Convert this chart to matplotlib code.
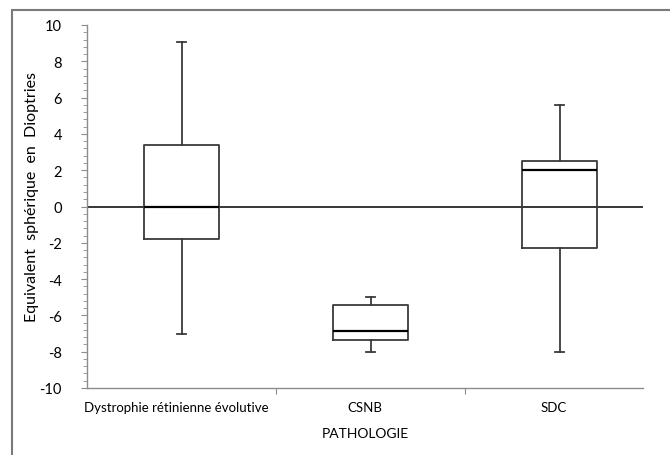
import matplotlib
matplotlib.use('Agg')
import matplotlib.pyplot as plt
from matplotlib.patches import Rectangle
from matplotlib.ticker import MultipleLocator

# valeurs (equivalent spherique, dioptries)
categories = ['Dystrophie rétinienne évolutive', 'CSNB', 'SDC']
whislo = [-7.0, -8.0, -8.0]
q1 = [-1.8, -7.38, -2.28]
med = [0.0, -6.88, 2.03]
q3 = [3.38, -5.43, 2.52]
whishi = [9.05, -5.0, 5.6]

plt.rcParams['font.family'] = ['Lato', 'DejaVu Sans']
plt.rcParams['axes.unicode_minus'] = False

fig = plt.figure(figsize=(6.7, 4.56), dpi=100)
ax = fig.add_axes([87 / 670, 1 - 389 / 456, 556 / 670, 363 / 456])

stats = []
for i in range(len(categories)):
    stats.append({'whislo': whislo[i], 'q1': q1[i], 'med': med[i],
                  'q3': q3[i], 'whishi': whishi[i], 'fliers': []})

pos = [0.5, 1.5, 2.5]
ax.axhline(0, color='black', lw=1.1, zorder=1)
ax.bxp(stats, positions=pos, widths=0.40, capwidths=0.045, showfliers=False,
       boxprops=dict(color='#3a3a3a', lw=1.3),
       whiskerprops=dict(color='#3a3a3a', lw=1.3),
       capprops=dict(color='#3a3a3a', lw=1.3),
       medianprops=dict(color='black', lw=1.6))

ax.set_xlim(0, 556 / 189)
ax.set_ylim(-10, 10)
ax.yaxis.set_major_locator(MultipleLocator(2))
ax.yaxis.set_minor_locator(MultipleLocator(0.4))
ax.set_xticks([1, 2])
ax.set_xticklabels([])
ax.tick_params(axis='y', which='major', length=4, color='#8c8c8c', labelsize=10.5, pad=14)
ax.tick_params(axis='y', which='minor', length=3, color='#8c8c8c')
ax.tick_params(axis='x', length=4, color='#8c8c8c')

for p, lab in zip([0.47, 1.47, 2.47], categories):
    ax.text(p, -11.05, lab, ha='center', va='center', fontsize=9.5)

ax.text(556 / 189 / 2, -12.5, 'PATHOLOGIE', ha='center', va='center', fontsize=10)
ax.set_ylabel('Equivalent  sphérique  en  Dioptries', fontsize=11.5)
ax.yaxis.set_label_coords(-0.087, 0.53)

for s in ['top', 'right']:
    ax.spines[s].set_visible(False)
for s in ['left', 'bottom']:
    ax.spines[s].set_color('#8c8c8c')
    ax.spines[s].set_linewidth(1.0)

# cadre exterieur du graphique
fig.patches.append(Rectangle((12 / 670, -0.02), 1.0, 1 - 11 / 456 + 0.02,
                             transform=fig.transFigure, fill=False,
                             edgecolor='#7a7a7a', lw=1.5))

fig.savefig('out.png', dpi=100)
